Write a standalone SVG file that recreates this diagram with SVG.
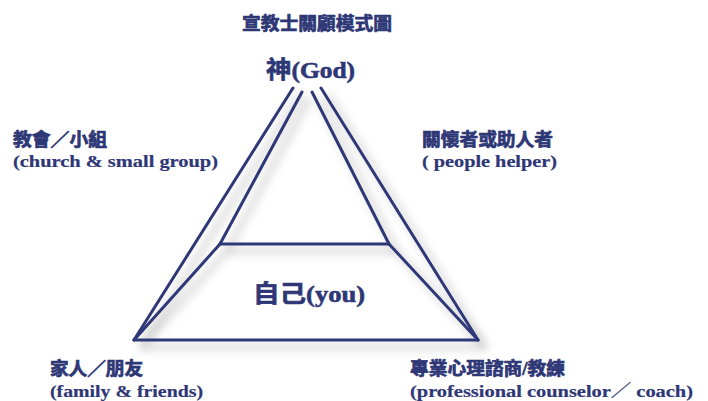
<svg xmlns="http://www.w3.org/2000/svg" width="708" height="401" viewBox="0 0 708 401">
<style>
.t{font-family:"Liberation Serif","Noto Sans CJK TC",serif;font-weight:bold;fill:#2e3776}
.zh{font-size:18px;stroke:#2e3776;stroke-width:0.7}
.en{font-size:17px;stroke:#2e3776;stroke-width:0.2}
.big{font-size:24px;stroke:#2e3776;stroke-width:0.6}
.ln{stroke:#2e3776;stroke-width:3;fill:none;stroke-linecap:round;stroke-linejoin:round}
</style>
<defs>
<filter id="sh" x="-20%" y="-20%" width="140%" height="140%">
<feGaussianBlur in="SourceAlpha" stdDeviation="5"/>
<feOffset dx="7" dy="7" result="b"/>
<feFlood flood-color="#000" flood-opacity="0.3"/>
<feComposite in2="b" operator="in"/>
<feMerge><feMergeNode/><feMergeNode in="SourceGraphic"/></feMerge>
</filter>
</defs>
<rect width="708" height="401" fill="#fff"/>
<g id="connectors" filter="url(#sh)">
<line class="ln" x1="293" y1="88" x2="134" y2="340"/>
<line class="ln" x1="302" y1="92" x2="220" y2="244"/>
<line class="ln" x1="220" y1="244" x2="134" y2="340"/>
<line class="ln" x1="312" y1="92" x2="389" y2="244"/>
<line class="ln" x1="321" y1="88" x2="478" y2="340"/>
<line class="ln" x1="389" y1="244" x2="478" y2="340"/>
<line class="ln" x1="220" y1="244" x2="389" y2="244"/>
<line class="ln" x1="134" y1="340" x2="478" y2="340"/>
</g>
<g id="title"><text class="t zh" x="242" y="30" textLength="150" lengthAdjust="spacingAndGlyphs">宣教士關顧模式圖</text></g>
<g id="god"><text class="t big" x="266" y="78" textLength="89" lengthAdjust="spacingAndGlyphs">神(God)</text></g>
<g id="church">
<text class="t zh" x="13" y="146" textLength="94" lengthAdjust="spacingAndGlyphs">教會／小組</text>
<text class="t en" x="13" y="167" textLength="205" lengthAdjust="spacingAndGlyphs">(church &amp; small group)</text>
</g>
<g id="helper">
<text class="t zh" x="422" y="146" textLength="131" lengthAdjust="spacingAndGlyphs">關懷者或助人者</text>
<text class="t en" x="422" y="167" textLength="135" lengthAdjust="spacingAndGlyphs">( people helper)</text>
</g>
<g id="self"><text class="t big" x="253" y="302" textLength="112" lengthAdjust="spacingAndGlyphs">自己(you)</text></g>
<g id="family">
<text class="t zh" x="50" y="375" textLength="93" lengthAdjust="spacingAndGlyphs">家人／朋友</text>
<text class="t en" x="50" y="397" textLength="153" lengthAdjust="spacingAndGlyphs">(family &amp; friends)</text>
</g>
<g id="professional">
<text class="t zh" x="410" y="375" textLength="155" lengthAdjust="spacingAndGlyphs">專業心理諮商/教練</text>
<text class="t en" x="410" y="397" textLength="283" lengthAdjust="spacingAndGlyphs">(professional counselor／ coach)</text>
</g>
</svg>
